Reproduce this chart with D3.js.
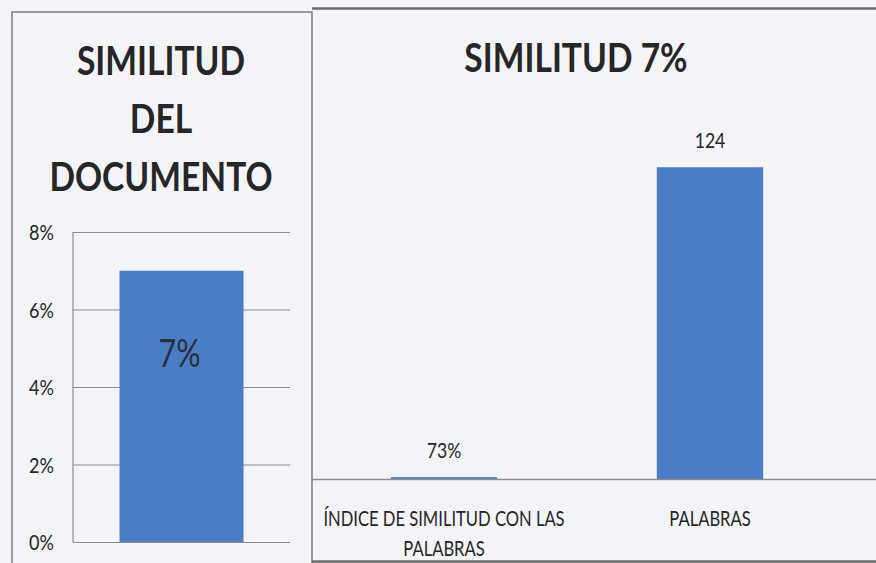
<!DOCTYPE html>
<html>
<head>
<meta charset="utf-8">
<script src="https://cdn.jsdelivr.net/npm/d3@7"></script>
<style>
  html, body { margin: 0; padding: 0; background: #f3f4f8; }
  svg { display: block; }
  text { font-family: Lato, "Open Sans", sans-serif; fill: #262626; }
</style>
</head>
<body>
<svg id="chart" width="876" height="563"></svg>
<script>
// Left chart: overall similarity of the document
const leftTitleLines = ["SIMILITUD", "DEL", "DOCUMENTO"];
const leftCategories = ["Similitud"];
const leftValues = [0.07];
const leftTicks = [0, 0.02, 0.04, 0.06, 0.08];

// Right chart: similarity index vs. words
const rightTitle = "SIMILITUD 7%";
const rightCategories = [["ÍNDICE DE SIMILITUD CON LAS", "PALABRAS"], ["PALABRAS"]];
const rightValues = [0.73, 124];
const rightLabelFormats = [".0%", "d"];

const BLUE = "#4a7dc5";
const GRID = "#8c8c8c";
const BORDER = "#7d7d7d";
const SX = 0.86; // horizontal squeeze for the narrow typeface look

const svg = d3.select("#chart");

function squeezedText(g, x, y, str, opts) {
  const t = g.append("text")
    .attr("transform", `translate(${x},${y}) scale(${opts.sx || SX},1)`)
    .attr("text-anchor", opts.anchor || "middle")
    .style("font-size", opts.size + "px")
    .style("font-weight", opts.weight || 400)
    .text(str);
  if (opts.fill) t.style("fill", opts.fill);
  return t;
}

// ---------- panel frames ----------
svg.append("rect")
  .attr("x", 12).attr("y", 12).attr("width", 300).attr("height", 570)
  .attr("fill", "none").attr("stroke", BORDER).attr("stroke-width", 1.5);
svg.append("line")
  .attr("x1", 312).attr("x2", 876).attr("y1", 8.5).attr("y2", 8.5)
  .attr("stroke", "#6a6a6a").attr("stroke-width", 2.5);
svg.append("line")
  .attr("x1", 312).attr("x2", 876).attr("y1", 561.5).attr("y2", 561.5)
  .attr("stroke", "#6a6a6a").attr("stroke-width", 2.5);

// ---------- left chart ----------
const L = svg.append("g");
leftTitleLines.forEach((s, i) => {
  squeezedText(L, 161, 75 + i * 58, s, { size: 40, weight: 700, sx: 0.84 });
});

const lx = d3.scaleBand().domain(leftCategories).range([73, 290])
  .paddingInner(0.4286).paddingOuter(0.2143);
const ly = d3.scaleLinear().domain([0, 0.08]).range([542, 232]);

// gridlines
L.append("g")
  .attr("transform", "translate(73,0)")
  .call(d3.axisLeft(ly).tickValues(leftTicks).tickSize(-217).tickFormat(""))
  .call(g => g.select(".domain").remove())
  .call(g => g.selectAll(".tick line").attr("stroke", GRID).attr("stroke-width", 1.2));

// value axis line
L.append("line")
  .attr("x1", 73).attr("x2", 73).attr("y1", ly(0.08)).attr("y2", ly(0))
  .attr("stroke", GRID).attr("stroke-width", 1.2);

// tick labels
leftTicks.forEach(v => {
  squeezedText(L, 54, ly(v) + 8, d3.format(".0%")(v), { size: 22, sx: 0.82, anchor: "end" });
});

L.selectAll("rect.bar").data(leftValues).join("rect")
  .attr("class", "bar")
  .attr("x", (d, i) => lx(leftCategories[i]))
  .attr("width", lx.bandwidth())
  .attr("y", d => ly(d))
  .attr("height", d => ly(0) - ly(d))
  .attr("fill", BLUE);

leftValues.forEach((d, i) => {
  squeezedText(L, lx(leftCategories[i]) + lx.bandwidth() / 2 - 2, ly(d) + 96,
    d3.format(".0%")(d), { size: 39, sx: 0.78, fill: "#2a2f3a" });
});

// ---------- right chart ----------
const R = svg.append("g");
squeezedText(R, 576, 72, rightTitle, { size: 40, weight: 700, sx: 0.84 });

const keys = rightCategories.map(c => c.join(" "));
const rx = d3.scaleBand().domain(keys).range([311, 843])
  .paddingInner(0.6).paddingOuter(0.3);
const ry = d3.scaleLinear().domain([0, 140]).range([479, 127]);

R.selectAll("rect.bar").data(rightValues).join("rect")
  .attr("class", "bar")
  .attr("x", (d, i) => rx(keys[i]))
  .attr("width", rx.bandwidth())
  .attr("y", d => ry(d))
  .attr("height", d => ry(0) - ry(d))
  .attr("fill", BLUE);

// category axis
R.append("line")
  .attr("x1", 312).attr("x2", 876).attr("y1", ry(0) + 0.5).attr("y2", ry(0) + 0.5)
  .attr("stroke", GRID).attr("stroke-width", 1.5);

// value labels
rightValues.forEach((d, i) => {
  squeezedText(R, rx(keys[i]) + rx.bandwidth() / 2, ry(d) - 19,
    d3.format(rightLabelFormats[i])(d), { size: 21, sx: 0.84 });
});

// category labels
rightCategories.forEach((lines, i) => {
  lines.forEach((s, j) => {
    squeezedText(R, rx(keys[i]) + rx.bandwidth() / 2, 526 + j * 30, s, { size: 21, sx: 0.79 });
  });
});
</script>
</body>
</html>
